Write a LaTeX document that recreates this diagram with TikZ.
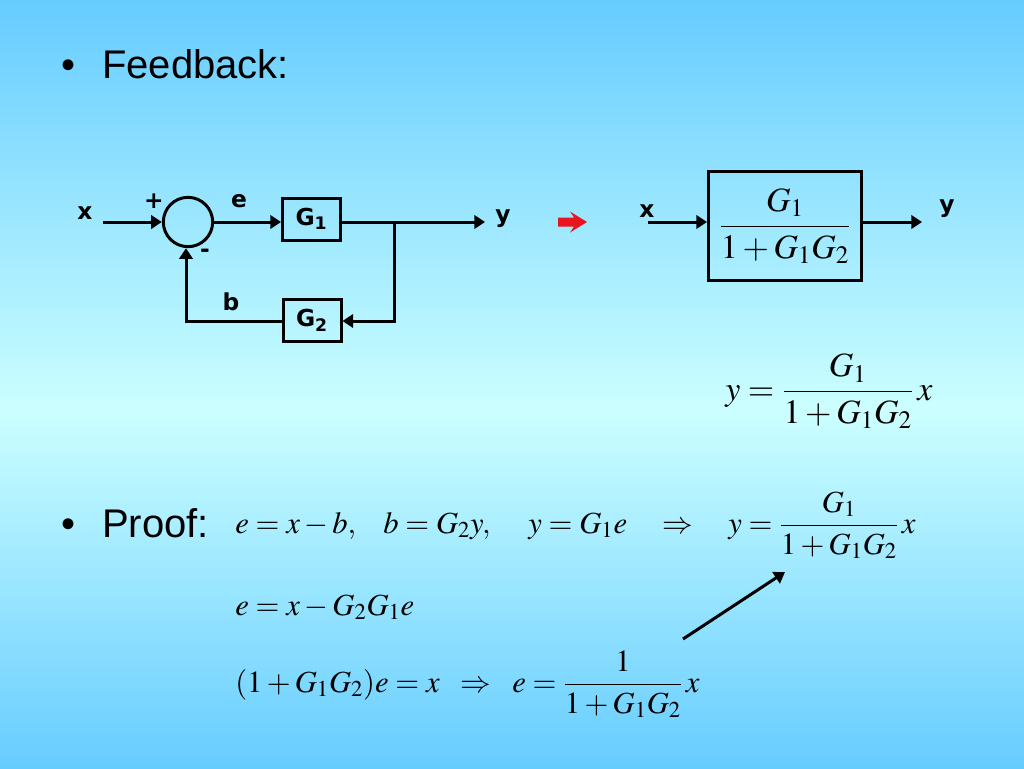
\documentclass[tikz,border=0pt]{standalone}
\usepackage{mathptmx}
\usepackage[no-math]{fontspec}
\usetikzlibrary{arrows.meta}
\newfontfamily\arialfont{Liberation Sans}
\newfontfamily\lblfamily{DejaVu Sans}
\newcommand\lblfont{\lblfamily\bfseries\fontsize{17.5}{21}\selectfont}
\newcommand\titlefont{\arialfont\fontsize{30}{36}\selectfont}
\newcommand\eqfont{\fontsize{23}{27}\selectfont}
\newcommand\eqbig{\fontsize{25.5}{30}\selectfont}
\definecolor{skyblue}{RGB}{102,204,255}
\definecolor{palecyan}{RGB}{204,255,255}
\definecolor{arrowred}{RGB}{232,20,30}
\tikzset{
  ln/.style={line width=2.25pt},
  arr/.style={ln, -{Triangle[length=8pt,width=10pt]}},
  blk/.style={draw, line width=2.25pt, minimum width=43.5pt, minimum height=31.5pt, inner sep=0pt, font=\lblfont},
  sumnode/.style={circle, draw, line width=2.25pt, minimum size=37pt, inner sep=0pt},
  lbl/.style={font=\lblfont, inner sep=0pt},
  eq/.style={inner sep=0pt, anchor=base west, font=\eqfont},
  bigeq/.style={inner sep=0pt, anchor=base west, font=\eqbig},
  ttl/.style={inner sep=0pt, anchor=base west, font=\titlefont},
}
\begin{document}
\begin{tikzpicture}[x=0.75pt,y=-0.75pt]
\useasboundingbox (0,0) rectangle (1024,768);
\shade[top color=skyblue, bottom color=palecyan] (0,0) rectangle (1024,411);
\shade[top color=palecyan, bottom color=skyblue] (0,410) rectangle (1024,768);

% titles
\node[ttl] (bul1) at (61,78) {•};
\node[ttl] (feed) at (102,78) {Feedback:};
\node[ttl] (bul2) at (61,537) {•};
\node[ttl] (proof) at (102,537) {Proof:};

% left block diagram
\node[sumnode] (sum) at (188,222) {};
\node[blk] (g1) at (311.5,219) {G\textsubscript{1}};
\node[blk] (g2) at (312,320.5) {G\textsubscript{2}};
\coordinate (xin) at (103,222);
\node[lbl] (xl) at (85,213) {x};
\node[lbl] (plus) at (154,201) {+};
\node[lbl] (minus) at (205,253) {-};
\node[lbl] (el) at (239,201) {e};
\node[lbl] (bl) at (231,302) {b};
\coordinate (branch) at (394,222);
\coordinate (yout) at (485,222);
\node[lbl] (yl) at (503,219) {y};
\coordinate (fbturn) at (394,321);
\coordinate (fbcorner) at (186,321);

\draw[arr] (xin) -- (sum.west);
\draw[arr] (sum.east) -- (sum.east -| g1.west);
\draw[arr] (g1.east |- branch) -- (yout);
\draw[arr] (branch) -- (fbturn) -- (g2.east |- fbturn);
\draw[arr] (g2.west |- fbturn) -- (fbcorner) -- (fbcorner |- sum.south);

% red arrow
\fill[arrowred] (558,217.5) -- (574,217.5) -- (570,211.5) -- (587,222) -- (570,232.5) -- (574,226.5) -- (558,226.5) -- cycle;

% right block diagram
\node[lbl] (x2) at (647,211) {x};
\coordinate (x2in) at (648,222);
\node[draw, line width=2.25pt, minimum width=114.75pt, minimum height=81.75pt, inner sep=0pt, font=\eqbig] (tf) at (785,226) {\raisebox{3pt}{$\displaystyle\frac{G_1}{1+G_1G_2}$}};
\coordinate (y2out) at (922,222);
\node[lbl] (y2) at (947,209) {y};
\draw[arr] (x2in) -- (x2in -| tf.west);
\draw[arr] (tf.east |- y2out) -- (y2out);

% right formula
\node[bigeq] (yf) at (725,400) {$y = \displaystyle\frac{G_1}{1+G_1G_2}\,x$};

% proof
\node[eq] (p1a) at (235,533) {$e = x - b,$};
\node[eq] (p1b) at (383,533) {$b = G_2 y,$};
\node[eq] (p1c) at (528,533) {$y = G_1 e$};
\node[eq] (p1d) at (662,533) {$\Rightarrow$};
\node[eq] (p1e) at (728,533) {$y = \displaystyle\frac{G_1}{1+G_1G_2}\,x$};
\node[eq] (p2) at (235,615) {$e = x - G_2 G_1 e$};
\node[eq] (p3a) at (235,692) {$(1+G_1G_2)e = x$};
\node[eq] (p3b) at (460,692) {$\Rightarrow$};
\node[eq] (p3c) at (512,692) {$e = \displaystyle\frac{1}{1+G_1G_2}\,x$};

\coordinate (aS) at (683,639);
\coordinate (aE) at (785,572);
\draw[arr] (aS) -- (aE);
\end{tikzpicture}
\end{document}
